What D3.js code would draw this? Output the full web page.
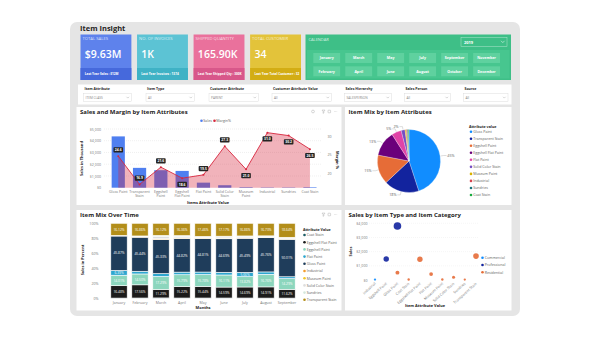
<!DOCTYPE html>
<html><head><meta charset="utf-8">
<script src="https://cdn.jsdelivr.net/npm/d3@7"></script>
<style>
html,body{margin:0;padding:0;background:#fff;}
svg{display:block;font-family:"Segoe UI","Open Sans","Noto Sans",sans-serif;}
</style></head><body>
<svg id="chart" width="590" height="360"></svg>
<script>
// ================= DATA =================
const dashboardTitle = "Item Insight";
const kpiTitles = ["TOTAL SALES", "NO. OF INVOICES", "SHIPPED QUANTITY", "TOTAL CUSTOMER"];
const kpiValues = ["$9.63M", "1K", "165.90K", "34"];
const kpiFooters = ["Last Year Sales : $12M", "Last Year Invoices : 1374", "Last Year Shipped Qty : 300K", "Last Year Total Customer : 32"];
const calendarTitle = "CALENDAR";
const calendarYear = "2019";
const calendarMonths = ["January","February","March","April","May","June","July","August","September","October","November","December"];
const filterLabels = ["Item Attribute","Item Type","Customer Attribute","Customer Attribute Value","Sales Hierarchy","Sales Person","Source"];
const filterValues = ["ITEM CLASS","All","PARENT","All","SALESPERSON","All","All"];

// Sales and Margin by Item Attributes
const attrCategories = ["Gloss Paint","Transparent Stain","Eggshell Paint","Eggshell Flat Paint","Flat Paint","Solid Color Stain","Museum Paint","Industrial","Sundries","Coat Stain"];
const salesValues = [4370, 1690, 1490, 1430, 430, 210, 50, 30, 30, 50];
const marginValues = [24.6, 16.9, 21.6, 18.6, 19.5, 27.3, 21.0, 31.0, 30.2, 26.5];
const marginLabelSide = ["above","above","above","below","above","above","below","below","below","below"];
const salesTicks = [0, 1000, 2000, 3000, 4000, 5000];
const marginTicks = [20, 25, 30];

// Item Mix by Item Attributes (pie, % share)
const pieShares = [45, 18, 15, 13, 5, 2, 0.6, 0.5, 0.5, 0.4];

// Item Mix Over Time (100% stacked)
const months = ["January","February","March","April","May","June","July","August","September"];
const mixSeries = ["Coat Stain","Eggshell Flat Paint","Eggshell Paint","Flat Paint","Gloss Paint","Industrial","Museum Paint","Solid Color Stain","Sundries","Transparent Stain"];
const mixCoatStain          = [0.30, 0.40, 0.50, 0.40, 0.40, 0.40, 0.40, 0.30, 0.30];
const mixEggshellFlatPaint  = [16.48, 17.56, 11.29, 15.22, 15.44, 14.59, 14.69, 14.91, 11.62];
const mixEggshellPaint      = [14.01, 14.50, 17.29, 15.79, 15.78, 16.11, 13.82, 16.76, 14.29];
const mixFlatPaint          = [6.39, 3.60, 3.90, 3.50, 3.40, 3.60, 5.66, 3.20, 2.50];
const mixGlossPaint         = [45.87, 45.44, 45.33, 44.82, 44.81, 44.69, 45.49, 45.76, 50.01];
const mixIndustrial         = [0.20, 0.30, 0.60, 0.50, 0.40, 0.40, 0.40, 0.30, 0.30];
const mixMuseumPaint        = [0.20, 0.30, 0.50, 0.40, 0.30, 0.40, 0.30, 0.30, 0.30];
const mixSolidColorStain    = [0.30, 0.60, 2.80, 1.80, 1.20, 1.60, 1.40, 1.00, 1.20];
const mixSundries           = [0.12, 0.44, 1.67, 1.21, 0.81, 1.04, 0.98, 0.74, 0.84];
const mixTransparentStain   = [16.12, 16.86, 16.12, 16.36, 17.46, 17.17, 16.86, 16.73, 18.64];
const percentTicks = [0, 20, 40, 60, 80, 100];

// Sales by Item Type and Item Category (bubbles)
const typeCategories = ["Industrial","Eggshell Paint","Gloss Paint","Coat Stain","Eggshell Flat Paint","Flat Paint","Museum Paint","Solid Color Stain","Sundries","Transparent Stain"];
const itemTypes = ["Commercial","Professional","Residential"];
const salesCommercial   = [30, null, null, null, null, null, null, null, null, null];
const salesProfessional = [null, 1480, 3810, null, null, null, null, null, null, null];
const salesResidential  = [null, null, 520, 40, 1460, 420, 40, 190, 30, 1690];
const bubbleTicks = [0, 1000, 2000, 3000, 4000];

// ================= DRAWING =================
const svg = d3.select("#chart");
const DARK = "#252423", GRAY = "#605e5c", AXIS = "#777";
const fmtMoney = d => "$" + d3.format(",")(d);

function styleAxis(g, size) {
  g.select(".domain").remove();
  g.attr("font-family", null).attr("font-size", size || 3.8);
  g.selectAll("text").attr("fill", AXIS);
}
function drawPanel(x, y, w, h, title) {
  svg.append("rect").attr("x", x).attr("y", y).attr("width", w).attr("height", h).attr("fill", "#fff");
  svg.append("text").attr("x", x + 3.5).attr("y", y + 7).attr("font-size", 6).attr("font-weight", 700)
    .attr("fill", DARK).text(title);
}
function icons(x, y, withPin) {
  const g = svg.append("g").attr("transform", `translate(${x},${y})`).attr("fill", "none").attr("stroke", "#a6a6a6").attr("stroke-width", 0.45);
  let ox = 0;
  if (withPin) { g.append("circle").attr("cx", -9).attr("cy", 0).attr("r", 1.4); }
  g.append("path").attr("d", `M${ox},-1.4 h3 l-1.1,1.3 v1.5 l-0.8,0.5 v-2 z`);
  g.append("rect").attr("x", 6).attr("y", -1.3).attr("width", 2.6).attr("height", 2.6).attr("rx", 0.5);
  [12.5, 13.7, 14.9].forEach(cx => g.append("circle").attr("cx", cx).attr("cy", 0).attr("r", 0.3).attr("fill", "#a6a6a6").attr("stroke", "none"));
}
function wrapLabel(t, maxChars) {
  const words = t.split(" "); const lines = []; let cur = "";
  words.forEach(w => {
    const next = cur ? cur + " " + w : w;
    if (next.length > maxChars && cur) { lines.push(cur); cur = w; } else cur = next;
  });
  lines.push(cur); return lines;
}

// board
svg.append("rect").attr("x", 70).attr("y", 22).attr("width", 450).attr("height", 294).attr("rx", 7).attr("fill", "#e5e5e5");
svg.append("text").attr("x", 80).attr("y", 31).attr("font-size", 7.5).attr("font-weight", 700).attr("fill", DARK).text(dashboardTitle);

// KPI cards
const kpiTop = ["#5e82ec", "#5cc3d4", "#ea719c", "#e3c33a"];
const kpiBottom = ["#4669dc", "#3fb2c5", "#d8578a", "#d3ad14"];
const kx = d3.scaleBand().domain(d3.range(kpiTitles.length)).range([80.5, 301]).paddingInner(0.1);
const cards = svg.selectAll("g.kpi").data(kpiTitles).join("g").attr("class", "kpi")
  .attr("transform", (d, i) => `translate(${kx(i)},34.5)`);
cards.append("rect").attr("width", kx.bandwidth()).attr("height", 45.5).attr("fill", (d, i) => kpiTop[i]);
cards.append("rect").attr("y", 33.5).attr("width", kx.bandwidth()).attr("height", 12).attr("fill", (d, i) => kpiBottom[i]);
cards.append("text").attr("x", 2).attr("y", 5.8).attr("font-size", 4.2).attr("fill", "rgba(255,255,255,0.75)").text(d => d);
cards.append("text").attr("x", 4.3).attr("y", 23.3).attr("font-size", 10.5).attr("font-weight", 600).attr("fill", "#fff").text((d, i) => kpiValues[i]);
cards.append("text").attr("x", 4.3).attr("y", 40.8).attr("font-size", 3.1).attr("font-weight", 700).attr("fill", "#fff").text((d, i) => kpiFooters[i]);

// Calendar
const cal = svg.append("g").attr("transform", "translate(305.5,34.5)");
cal.append("rect").attr("width", 205.5).attr("height", 45.5).attr("fill", "#3ebf87");
cal.append("rect").attr("x", 1.5).attr("y", 15.5).attr("width", 202.5).attr("height", 28.5).attr("fill", "#47c68f");
cal.append("text").attr("x", 3).attr("y", 6.5).attr("font-size", 4).attr("fill", "rgba(255,255,255,0.8)").text(calendarTitle);
cal.append("rect").attr("x", 155.5).attr("y", 3).attr("width", 46).attr("height", 9).attr("fill", "none").attr("stroke", "rgba(255,255,255,0.6)").attr("stroke-width", 0.5);
cal.append("text").attr("x", 158.5).attr("y", 9.2).attr("font-size", 4).attr("font-weight", 700).attr("fill", "#fff").text(calendarYear);
cal.append("path").attr("d", "M195.5,6.3 l1.8,1.8 l1.8,-1.8").attr("fill", "none").attr("stroke", "#fff").attr("stroke-width", 0.5);
const bxs = d3.scaleBand().domain(d3.range(6)).range([7.8, 194.5]).paddingInner(0.16);
const bys = d3.scaleBand().domain([0, 1]).range([18.5, 41.8]).paddingInner(0.25);
const btn = cal.selectAll("g.btn").data(calendarMonths).join("g").attr("class", "btn")
  .attr("transform", (d, i) => `translate(${bxs(Math.floor(i / 2))},${bys(i % 2)})`);
btn.append("rect").attr("width", bxs.bandwidth()).attr("height", bys.bandwidth()).attr("fill", "#5fd19f");
btn.append("text").attr("x", bxs.bandwidth() / 2).attr("y", bys.bandwidth() / 2 + 1.3).attr("text-anchor", "middle")
  .attr("font-size", 3.6).attr("font-weight", 700).attr("fill", "#fff").text(d => d);

// Filter row
svg.append("rect").attr("x", 78).attr("y", 84.5).attr("width", 433.5).attr("height", 20).attr("fill", "#fff");
const slotX = [83.5, 146, 209, 272, 344.5, 404.5, 463.5];
const slotW = [48, 48.5, 49.5, 59.5, 47, 46, 44.5];
filterLabels.forEach((lab, i) => {
  svg.append("text").attr("x", slotX[i] + 1).attr("y", 90.3).attr("font-size", 3.5).attr("font-weight", 700).attr("fill", DARK).text(lab);
  svg.append("rect").attr("x", slotX[i]).attr("y", 93.5).attr("width", slotW[i]).attr("height", 8).attr("fill", "#fff").attr("stroke", "#d6d6d6").attr("stroke-width", 0.4);
  svg.append("text").attr("x", slotX[i] + 2).attr("y", 98.7).attr("font-size", 3.2).attr("fill", "#888").text(filterValues[i]);
  svg.append("path").attr("d", `M${slotX[i] + slotW[i] - 5},96.8 l1.3,1.3 l1.3,-1.3`).attr("fill", "none").attr("stroke", "#999").attr("stroke-width", 0.4);
});

// ---------- Panel 1: Sales and Margin ----------
drawPanel(76.5, 107, 265, 98, "Sales and Margin by Item Attributes");
icons(322, 111.5, true);
const x1 = d3.scaleBand().domain(attrCategories).range([107.6, 320.6]).paddingInner(0.38).paddingOuter(0.19);
const y1 = d3.scaleLinear().domain([0, 5000]).range([187.7, 129]);
const ym = d3.scaleLinear().domain([16, 32]).range([187.7, 129]);
const c1 = c => x1(c) + x1.bandwidth() / 2;
svg.append("g").selectAll("line").data(salesTicks.slice(1)).join("line")
  .attr("x1", 104).attr("x2", 322).attr("y1", d => y1(d)).attr("y2", d => y1(d))
  .attr("stroke", "#cfcfcf").attr("stroke-width", 0.4).attr("stroke-dasharray", "0.8,1.2");
svg.append("g").attr("transform", "translate(101,0)")
  .call(d3.axisLeft(y1).tickValues(salesTicks).tickSize(0).tickPadding(0).tickFormat(fmtMoney)).call(g => styleAxis(g, 3.6));
svg.append("g").attr("transform", "translate(327.5,0)")
  .call(d3.axisRight(ym).tickValues(marginTicks).tickSize(0).tickPadding(0)).call(g => styleAxis(g, 3.6));
// bars
svg.append("g").selectAll("rect").data(salesValues).join("rect")
  .attr("x", (d, i) => x1(attrCategories[i])).attr("width", x1.bandwidth())
  .attr("y", d => y1(d)).attr("height", d => y1(0) - y1(d)).attr("fill", "#4f7ff0");
// area + line
const area1 = d3.area().x((d, i) => c1(attrCategories[i])).y0(ym(16)).y1(d => ym(d));
const line1 = d3.line().x((d, i) => c1(attrCategories[i])).y(d => ym(d));
svg.append("path").datum(marginValues).attr("d", area1).attr("fill", "#d7263d").attr("fill-opacity", 0.35);
svg.append("path").datum(marginValues).attr("d", line1).attr("fill", "none").attr("stroke", "#d7263d").attr("stroke-width", 0.9);
svg.append("g").selectAll("circle").data(marginValues).join("circle")
  .attr("cx", (d, i) => c1(attrCategories[i])).attr("cy", d => ym(d)).attr("r", 1).attr("fill", "#d7263d");
// data labels
const lab1 = svg.append("g").selectAll("g").data(marginValues).join("g")
  .attr("transform", (d, i) => `translate(${c1(attrCategories[i])},${ym(d) + (marginLabelSide[i] === "above" ? -6.3 : 6.3)})`);
lab1.append("rect").attr("x", -4.8).attr("y", -2.6).attr("width", 9.6).attr("height", 5.2).attr("rx", 0.8).attr("fill", DARK);
lab1.append("text").attr("y", 1.2).attr("text-anchor", "middle").attr("font-size", 3.4).attr("font-weight", 700).attr("fill", "#fff").text(d => d3.format(".1f")(d));
// x labels
attrCategories.forEach(c => {
  const lines = wrapLabel(c, 11);
  const t = svg.append("text").attr("text-anchor", "middle").attr("font-size", 3.6).attr("fill", AXIS);
  lines.forEach((l, k) => t.append("tspan").attr("x", c1(c)).attr("y", 193.3 + k * 4).text(l));
});
svg.append("text").attr("x", 208).attr("y", 204).attr("text-anchor", "middle").attr("font-size", 3.9).attr("font-weight", 700).attr("fill", DARK).text("Items Attribute Value");
svg.append("text").attr("transform", "translate(83,158.5) rotate(-90)").attr("text-anchor", "middle").attr("font-size", 3.9).attr("font-weight", 700).attr("fill", DARK).text("Sales in Thousand");
svg.append("text").attr("transform", "translate(335.5,160) rotate(90)").attr("text-anchor", "middle").attr("font-size", 3.9).attr("font-weight", 700).attr("fill", DARK).text("Margin %");
// legend
const lg1 = svg.append("g").attr("transform", "translate(201.5,120.7)");
lg1.append("circle").attr("r", 1.3).attr("fill", "#4f7ff0");
lg1.append("text").attr("x", 1.8).attr("y", 1.3).attr("font-size", 3.6).attr("fill", GRAY).text("Sales");
lg1.append("circle").attr("cx", 13).attr("r", 1.3).attr("fill", "#d7263d");
lg1.append("text").attr("x", 14.8).attr("y", 1.3).attr("font-size", 3.6).attr("fill", GRAY).text("Margin%");

// ---------- Panel 2: Pie ----------
drawPanel(345, 107, 166.5, 98, "Item Mix by Item Attributes");
const pieColors = ["#118DFF","#12239E","#E66C37","#6B007B","#E044A7","#744EC2","#D9B300","#D64550","#197278","#1AAB40"];
const pcx = 409, pcy = 161, pr = 31.5;
const pieData = d3.pie().sort(null).value(d => d)(pieShares);
const arc = d3.arc().innerRadius(0).outerRadius(pr);
const pg = svg.append("g").attr("transform", `translate(${pcx},${pcy})`);
pg.selectAll("path").data(pieData).join("path").attr("d", arc).attr("fill", (d, i) => pieColors[i]).attr("stroke", "#fff").attr("stroke-width", 0.25);
pieData.filter(d => d.data >= 2).forEach(d => {
  const a = (d.startAngle + d.endAngle) / 2;
  const sx = Math.sin(a), sy = -Math.cos(a);
  const side = sx >= 0 ? 1 : -1;
  const p0 = [sx * (pr + 0.5), sy * (pr + 0.5)];
  const p1 = [sx * (pr + 3.5), sy * (pr + 3.5)];
  const p2 = [p1[0] + side * 3, p1[1]];
  pg.append("polyline").attr("points", [p0, p1, p2].map(p => p.join(",")).join(" ")).attr("fill", "none").attr("stroke", "#aaa").attr("stroke-width", 0.4);
  pg.append("text").attr("x", p2[0] + side * 0.8).attr("y", p2[1] + 1.3).attr("text-anchor", side > 0 ? "start" : "end")
    .attr("font-size", 3.7).attr("fill", GRAY).text(d3.format(".0f")(d.data) + "%");
});
svg.append("text").attr("x", 469).attr("y", 128.4).attr("font-size", 3.6).attr("font-weight", 700).attr("fill", DARK).text("Attribute value");
const lg2 = svg.append("g").selectAll("g").data(attrCategories).join("g").attr("transform", (d, i) => `translate(471,${131.7 + i * 7.03})`);
lg2.append("circle").attr("r", 1.3).attr("fill", (d, i) => pieColors[i]);
lg2.append("text").attr("x", 2.2).attr("y", 1.3).attr("font-size", 3.6).attr("fill", GRAY).text(d => d);

// ---------- Panel 3: Item Mix Over Time ----------
drawPanel(76.5, 210, 265, 100.5, "Item Mix Over Time");
icons(322, 214.5, false);
const mixColors = ["#1d5c66","#1b1b1b","#8cd6bd","#2ea6cf","#1f3d5b","#f39b2f","#f2c62b","#dedede","#d5e8dc","#b38e1a"];
const mixArrays = [mixCoatStain, mixEggshellFlatPaint, mixEggshellPaint, mixFlatPaint, mixGlossPaint, mixIndustrial, mixMuseumPaint, mixSolidColorStain, mixSundries, mixTransparentStain];
const mixRows = months.map((m, j) => { const r = { month: m }; mixSeries.forEach((s, k) => r[s] = mixArrays[k][j]); return r; });
const stacked = d3.stack().keys(mixSeries).offset(d3.stackOffsetExpand)(mixRows);
const x3 = d3.scaleBand().domain(months).range([108.5, 297.5]).paddingInner(0.22).paddingOuter(0.11);
const y3 = d3.scaleLinear().domain([0, 1]).range([298.3, 223.3]);
svg.append("g").attr("transform", "translate(98.5,0)")
  .call(d3.axisLeft(y3).tickValues(percentTicks.map(d => d / 100)).tickSize(0).tickPadding(0).tickFormat(d => d3.format(".0f")(d * 100) + "%")).call(g => styleAxis(g, 3.6));
const sg = svg.append("g").selectAll("g").data(stacked).join("g").attr("fill", (d, k) => mixColors[k]);
sg.selectAll("rect").data(d => d).join("rect")
  .attr("x", d => x3(d.data.month)).attr("width", x3.bandwidth())
  .attr("y", d => y3(d[1])).attr("height", d => Math.max(0, y3(d[0]) - y3(d[1])))
  .attr("stroke", "#fff").attr("stroke-width", 0.6);
stacked.forEach((s, k) => {
  s.forEach(d => {
    const v = d.data[mixSeries[k]];
    if (v >= 5) {
      svg.append("text").attr("x", x3(d.data.month) + x3.bandwidth() / 2).attr("y", (y3(d[0]) + y3(d[1])) / 2 + 1.2)
        .attr("text-anchor", "middle").attr("font-size", 3.3).attr("fill", "#fff").text(d3.format(".2f")(v) + "%");
    }
  });
});
months.forEach(m => svg.append("text").attr("x", x3(m) + x3.bandwidth() / 2).attr("y", 303.5).attr("text-anchor", "middle").attr("font-size", 3.6).attr("fill", AXIS).text(m));
svg.append("text").attr("x", 203).attr("y", 308.8).attr("text-anchor", "middle").attr("font-size", 3.9).attr("font-weight", 700).attr("fill", DARK).text("Months");
svg.append("text").attr("transform", "translate(84,260) rotate(-90)").attr("text-anchor", "middle").attr("font-size", 3.9).attr("font-weight", 700).attr("fill", DARK).text("Sales in Percent");
svg.append("text").attr("x", 303).attr("y", 230.6).attr("font-size", 3.6).attr("font-weight", 700).attr("fill", DARK).text("Attribute Value");
const lg3 = svg.append("g").selectAll("g").data(mixSeries).join("g").attr("transform", (d, i) => `translate(304.5,${235 + i * 7.2})`);
lg3.append("circle").attr("r", 1.3).attr("fill", (d, i) => mixColors[i]);
lg3.append("text").attr("x", 2.2).attr("y", 1.3).attr("font-size", 3.6).attr("fill", GRAY).text(d => d);

// ---------- Panel 4: Bubbles ----------
drawPanel(345, 210, 166.5, 100.5, "Sales by Item Type and Item Category");
const typeColors = ["#118DFF", "#12239E", "#E66C37"];
const x4 = d3.scalePoint().domain(typeCategories).range([375, 476]);
const y4 = d3.scaleLinear().domain([0, 4000]).range([280, 223.3]);
const r4 = d3.scaleSqrt().domain([0, 3810]).range([0.9, 3.8]);
svg.append("g").selectAll("line").data(bubbleTicks.slice(1)).join("line")
  .attr("x1", 369).attr("x2", 478).attr("y1", d => y4(d)).attr("y2", d => y4(d))
  .attr("stroke", "#e3e3e3").attr("stroke-width", 0.4).attr("stroke-dasharray", "0.8,1.2");
svg.append("g").attr("transform", "translate(367.5,0)")
  .call(d3.axisLeft(y4).tickValues(bubbleTicks).tickSize(0).tickPadding(0).tickFormat(fmtMoney)).call(g => styleAxis(g, 3.6));
[salesCommercial, salesProfessional, salesResidential].forEach((arr, k) => {
  svg.append("g").selectAll("circle").data(arr.map((v, i) => ({ v, c: typeCategories[i] })).filter(d => d.v != null)).join("circle")
    .attr("cx", d => x4(d.c)).attr("cy", d => y4(d.v)).attr("r", d => r4(d.v))
    .attr("fill", typeColors[k]).attr("fill-opacity", 0.9);
});
typeCategories.forEach(c => svg.append("text").attr("transform", `translate(${x4(c) + 1},${284}) rotate(-42)`)
  .attr("text-anchor", "end").attr("font-size", 3.6).attr("fill", AXIS).text(c));
svg.append("text").attr("x", 425).attr("y", 307.3).attr("text-anchor", "middle").attr("font-size", 3.9).attr("font-weight", 700).attr("fill", DARK).text("Item Attribute Value");
svg.append("text").attr("transform", "translate(352,251.5) rotate(-90)").attr("text-anchor", "middle").attr("font-size", 3.9).attr("font-weight", 700).attr("fill", DARK).text("Sales");
const lg4 = svg.append("g").selectAll("g").data(itemTypes).join("g").attr("transform", (d, i) => `translate(482.5,${257.7 + i * 7.3})`);
lg4.append("circle").attr("r", 1.3).attr("fill", (d, i) => typeColors[i]);
lg4.append("text").attr("x", 2.2).attr("y", 1.3).attr("font-size", 3.6).attr("fill", GRAY).text(d => d);
</script></body></html>
